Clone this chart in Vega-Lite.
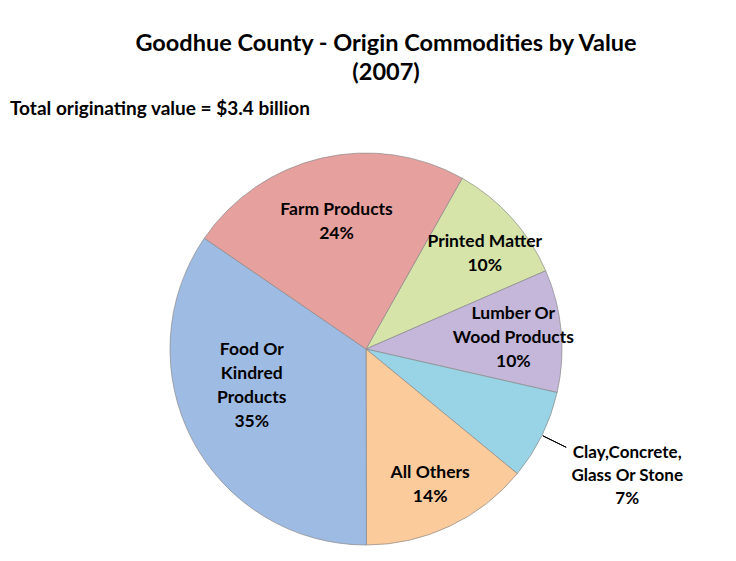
{
  "$schema": "https://vega.github.io/schema/vega-lite/v6.json",
  "padding": {"left": 10, "top": 31, "right": 0, "bottom": 0},
  "background": "white",
  "title": {
    "text": ["Goodhue County - Origin Commodities by Value", "(2007)"],
    "font": "Lato",
    "fontSize": 23.5,
    "fontWeight": "bold",
    "lineHeight": 29,
    "color": "black",
    "anchor": "middle",
    "dx": 20,
    "offset": 16
  },
  "config": {"view": {"stroke": null}},
  "vconcat": [
    {
      "width": 712,
      "height": 460,
      "title": {
        "text": "Total originating value = $3.4 billion",
        "font": "Lato",
        "fontSize": 19,
        "fontWeight": "bold",
        "color": "black",
        "anchor": "start",
        "frame": "group",
        "offset": 0
      },
      "data": {
        "values": [
          {"cat": "Printed Matter", "value": 10.3, "label": "Printed Matter\n10%", "ord": 1},
          {"cat": "Lumber Or Wood Products", "value": 10.1, "label": "Lumber Or\nWood Products\n10%", "ord": 2},
          {"cat": "Clay,Concrete, Glass Or Stone", "value": 7.4, "label": "Clay,Concrete,\nGlass Or Stone\n7%", "ord": 3},
          {"cat": "All Others", "value": 14.0, "label": "All Others\n14%", "ord": 4},
          {"cat": "Food Or Kindred Products", "value": 34.6, "label": "Food Or\nKindred\nProducts\n35%", "ord": 5},
          {"cat": "Farm Products", "value": 23.6, "label": "Farm Products\n24%", "ord": 6}
        ]
      },
      "transform": [
        {"stack": "value", "groupby": [], "sort": [{"field": "ord", "order": "ascending"}], "as": ["t0", "t1"]},
        {"calculate": "(datum.t0 + datum.t1) / 2", "as": "mid"}
      ],
      "layer": [
        {
          "mark": {"type": "arc", "outerRadius": 196, "stroke": "#8a8a8a", "strokeWidth": 0.7},
          "encoding": {
            "theta": {"field": "t0", "type": "quantitative", "stack": null, "scale": {"domain": [0, 100], "range": [0.513, 6.796], "zero": false}},
            "theta2": {"field": "t1"},
            "color": {
              "field": "cat",
              "type": "nominal",
              "legend": null,
              "scale": {
                "domain": ["Printed Matter", "Lumber Or Wood Products", "Clay,Concrete, Glass Or Stone", "All Others", "Food Or Kindred Products", "Farm Products"],
                "range": ["#D6E4AA", "#C4B7DA", "#98D4E6", "#FCCB9B", "#9EBBE3", "#E6A09E"]
              }
            }
          }
        },
        {
          "transform": [{"filter": "datum.cat === 'Farm Products'"}],
          "mark": {"type": "text", "radius": 130, "dy": -12, "font": "Lato", "fontSize": 17.5, "fontWeight": "bold", "lineBreak": "\n", "lineHeight": 24, "fill": "black"},
          "encoding": {
            "theta": {"field": "mid", "type": "quantitative", "stack": null, "scale": {"domain": [0, 100], "range": [0.513, 6.796], "zero": false}},
            "text": {"field": "label"}
          }
        },
        {
          "transform": [{"filter": "datum.cat === 'Printed Matter'"}],
          "mark": {"type": "text", "radius": 152, "thetaOffset": 0.06, "dy": -12, "font": "Lato", "fontSize": 17.5, "fontWeight": "bold", "lineBreak": "\n", "lineHeight": 24, "fill": "black"},
          "encoding": {
            "theta": {"field": "mid", "type": "quantitative", "stack": null, "scale": {"domain": [0, 100], "range": [0.513, 6.796], "zero": false}},
            "text": {"field": "label"}
          }
        },
        {
          "transform": [{"filter": "datum.cat === 'All Others'"}],
          "mark": {"type": "text", "radius": 150, "dy": -12, "font": "Lato", "fontSize": 17.5, "fontWeight": "bold", "lineBreak": "\n", "lineHeight": 24, "fill": "black"},
          "encoding": {
            "theta": {"field": "mid", "type": "quantitative", "stack": null, "scale": {"domain": [0, 100], "range": [0.513, 6.796], "zero": false}},
            "text": {"field": "label"}
          }
        },
        {
          "transform": [{"filter": "datum.cat === 'Lumber Or Wood Products'"}],
          "mark": {"type": "text", "radius": 148, "dy": -21, "font": "Lato", "fontSize": 17.5, "fontWeight": "bold", "lineBreak": "\n", "lineHeight": 24, "fill": "black"},
          "encoding": {
            "theta": {"field": "mid", "type": "quantitative", "stack": null, "scale": {"domain": [0, 100], "range": [0.513, 6.796], "zero": false}},
            "text": {"field": "label"}
          }
        },
        {
          "transform": [{"filter": "datum.cat === 'Food Or Kindred Products'"}],
          "mark": {"type": "text", "radius": 120, "thetaOffset": 0.175, "dy": -36, "font": "Lato", "fontSize": 17.5, "fontWeight": "bold", "lineBreak": "\n", "lineHeight": 24, "fill": "black"},
          "encoding": {
            "theta": {"field": "mid", "type": "quantitative", "stack": null, "scale": {"domain": [0, 100], "range": [0.513, 6.796], "zero": false}},
            "text": {"field": "label"}
          }
        },
        {
          "transform": [{"filter": "datum.cat === 'Clay,Concrete, Glass Or Stone'"}],
          "mark": {"type": "text", "radius": 291, "dy": -24, "font": "Lato", "fontSize": 17, "fontWeight": "bold", "lineBreak": "\n", "lineHeight": 23, "fill": "black"},
          "encoding": {
            "theta": {"field": "mid", "type": "quantitative", "stack": null, "scale": {"domain": [0, 100], "range": [0.513, 6.796], "zero": false}},
            "text": {"field": "label"}
          }
        },
        {
          "transform": [{"filter": "datum.cat === 'Clay,Concrete, Glass Or Stone'"}],
          "mark": {"type": "arc", "radius": 197, "radius2": 223, "stroke": "black", "strokeWidth": 1, "fillOpacity": 0},
          "encoding": {
            "theta": {"field": "mid", "type": "quantitative", "stack": null, "scale": {"domain": [0, 100], "range": [0.513, 6.796], "zero": false}},
            "theta2": {"field": "mid"}
          }
        }
      ]
    }
  ]
}
